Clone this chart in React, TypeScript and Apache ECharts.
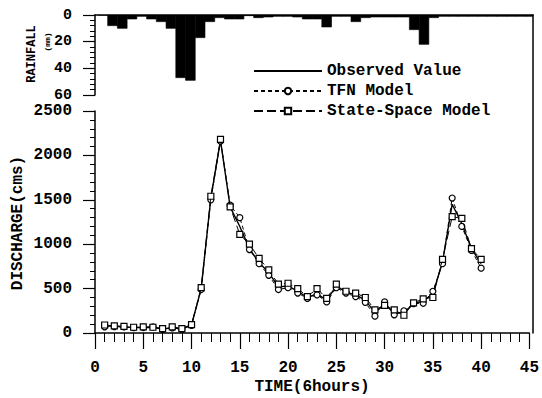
import React, { useEffect, useRef } from "react";
import * as echarts from "echarts";

const times = [1, 2, 3, 4, 5, 6, 7, 8, 9, 10, 11, 12, 13, 14, 15, 16, 17, 18, 19, 20, 21, 22, 23, 24, 25, 26, 27, 28, 29, 30, 31, 32, 33, 34, 35, 36, 37, 38, 39, 40];
const observed = [80, 75, 70, 60, 60, 65, 45, 60, 45, 90, 500, 1520, 2170, 1420, 1200, 950, 790, 680, 520, 530, 470, 400, 440, 370, 530, 460, 430, 370, 230, 330, 220, 230, 330, 360, 440, 800, 1450, 1230, 950, 780];
const tfnModel = [70, 72, 68, 60, 62, 70, 40, 58, 42, 85, 490, 1500, 2160, 1440, 1300, 940, 780, 650, 490, 510, 450, 390, 430, 350, 510, 450, 410, 345, 190, 350, 205, 250, 330, 335, 470, 780, 1520, 1200, 930, 730];
const stateSpace = [90, 80, 75, 65, 68, 65, 50, 70, 50, 95, 510, 1540, 2180, 1420, 1110, 1000, 840, 710, 550, 560, 500, 410, 500, 390, 550, 470, 450, 400, 260, 310, 260, 200, 340, 385, 400, 830, 1310, 1290, 950, 830];

const rainTimes = [1, 2, 3, 4, 5, 6, 7, 8, 9, 10, 11, 12, 13, 14, 15, 16, 17, 18, 19, 20, 21, 22, 23, 24, 25, 26, 27, 28, 29, 30, 31, 32, 33, 34, 35, 36, 37, 38, 39, 40, 41, 42, 43, 44, 45];
const rainfall = [0, 8, 10, 3, 1, 3, 5, 10, 47, 49, 17, 5, 2, 3, 3, 0.5, 2, 1.5, 1, 1, 1.5, 3, 3, 9, 1, 1, 5, 2, 1.5, 1.5, 1.5, 1.5, 11, 22, 2, 1, 1, 1, 1, 1, 1, 1, 1, 1, 1];

const xTicks = [0, 45, 5];
const qTicks = [0, 2500, 500];
const rTicks = [0, 60, 20];

const FONT = '"Liberation Mono", "DejaVu Sans Mono", monospace';
const BLACK = "#000";

export default function App() {
  const ref = useRef<HTMLDivElement>(null);
  useEffect(() => {
    if (!ref.current) return;
    const chart = echarts.init(ref.current, null, { renderer: "svg" });
    const labelStyle = { color: BLACK, fontFamily: FONT, fontWeight: "bold", fontSize: 15 };
    const plain = (v: number) => String(v);
    const line = { lineStyle: { color: BLACK, width: 1.5 } };
    const titleText = (text: string, x: number, y: number, size: number, rotate: boolean) => ({
      type: "text",
      x,
      y,
      rotation: rotate ? Math.PI / 2 : 0,
      style: {
        text,
        fill: BLACK,
        fontFamily: FONT,
        fontWeight: "bold",
        fontSize: size,
        textAlign: "center",
        textVerticalAlign: "middle",
      },
    });
    chart.setOption({
      animation: false,
      backgroundColor: "#fff",
      textStyle: { fontFamily: FONT },
      grid: [
        { left: 95, right: 9, top: 111, bottom: 65 },
        { left: 95, right: 9, top: 15, height: 80 },
        { left: 95, right: 9, top: 15, bottom: 65 },
      ],
      graphic: [
        titleText("DISCHARGE(cms)", 18, 223, 16, true),
        titleText("TIME(6hours)", 312, 387, 16, false),
        titleText("RAINFALL", 32, 54, 12, true),
        titleText("(mm)", 47, 42, 8, true),
      ],
      legend: {
        orient: "vertical",
        left: 253,
        top: 63,
        padding: 0,
        itemWidth: 68,
        itemHeight: 8,
        itemGap: 4,
        textStyle: { ...labelStyle, fontSize: 16, lineHeight: 16 },
        data: [
          { name: "Observed Value", itemStyle: { color: "transparent", borderColor: "transparent", borderWidth: 0 } },
          { name: "TFN Model" },
          { name: "State-Space Model" },
        ],
      },
      xAxis: [
        {
          gridIndex: 0,
          type: "value",
          min: xTicks[0],
          max: xTicks[1],
          interval: xTicks[2],
          axisLine: { show: true, onZero: false, ...line },
          axisTick: { show: true, inside: false, length: 16, lineStyle: { color: BLACK, width: 1.2 } },
          minorTick: { show: true, splitNumber: 5, length: 9, lineStyle: { color: BLACK, width: 1 } },
          splitLine: { show: false },
          axisLabel: { ...labelStyle, fontSize: 16, margin: 27, formatter: plain },
        },
        { gridIndex: 1, type: "value", min: 0.2, max: 45.2, show: false },
        {
          gridIndex: 2,
          type: "value",
          min: 0,
          max: 45,
          position: "top",
          axisLine: { show: true, onZero: false, ...line },
          axisTick: { show: false },
          axisLabel: { show: false },
          splitLine: { show: false },
        },
      ],
      yAxis: [
        {
          gridIndex: 0,
          type: "value",
          min: qTicks[0],
          max: qTicks[1],
          interval: qTicks[2],
          axisLine: { show: true, onZero: false, ...line },
          axisTick: { show: true, inside: false, length: 12, lineStyle: { color: BLACK, width: 1.2 } },
          minorTick: { show: true, splitNumber: 5, length: 5, lineStyle: { color: BLACK, width: 1 } },
          splitLine: { show: false },
          axisLabel: { ...labelStyle, fontSize: 16, margin: 23, formatter: plain },
        },
        {
          gridIndex: 1,
          type: "value",
          inverse: true,
          min: rTicks[0],
          max: rTicks[1],
          interval: rTicks[2],
          axisLine: { show: true, onZero: false, ...line },
          axisTick: { show: true, inside: false, length: 12, lineStyle: { color: BLACK, width: 1.2 } },
          minorTick: { show: true, splitNumber: 5, length: 5, lineStyle: { color: BLACK, width: 1 } },
          splitLine: { show: false },
          axisLabel: { ...labelStyle, margin: 23, formatter: plain },
        },
        {
          gridIndex: 2,
          type: "value",
          min: 0,
          max: 1,
          position: "right",
          axisLine: { show: true, onZero: false, ...line },
          axisTick: { show: false },
          axisLabel: { show: false },
          splitLine: { show: false },
        },
      ],
      series: [
        {
          name: "Rainfall",
          type: "custom",
          xAxisIndex: 1,
          yAxisIndex: 1,
          clip: true,
          data: rainTimes.map((t, i) => [t, rainfall[i]]),
          renderItem: (params: any, api: any) => {
            const t = api.value(0);
            const v = api.value(1);
            const p0 = api.coord([t - 0.5, 0]);
            const p1 = api.coord([t + 0.5, v]);
            return {
              type: "rect",
              shape: { x: p0[0], y: p0[1], width: p1[0] - p0[0], height: p1[1] - p0[1] },
              style: { fill: BLACK, stroke: BLACK, lineWidth: 0.6 },
            };
          },
        },
        {
          name: "Observed Value",
          type: "line",
          xAxisIndex: 0,
          yAxisIndex: 0,
          data: times.map((t, i) => [t, observed[i]]),
          symbol: "none",
          lineStyle: { color: BLACK, width: 1.4, type: "solid" },
          itemStyle: { color: BLACK },
          z: 3,
        },
        {
          name: "TFN Model",
          type: "line",
          xAxisIndex: 0,
          yAxisIndex: 0,
          data: times.map((t, i) => [t, tfnModel[i]]),
          symbol: "circle",
          symbolSize: 6,
          showAllSymbol: true,
          lineStyle: { color: BLACK, width: 1, type: [4, 3] },
          itemStyle: { color: "#fff", borderColor: BLACK, borderWidth: 1.2 },
          z: 4,
        },
        {
          name: "State-Space Model",
          type: "line",
          xAxisIndex: 0,
          yAxisIndex: 0,
          data: times.map((t, i) => [t, stateSpace[i]]),
          symbol: "rect",
          symbolSize: 6,
          showAllSymbol: true,
          lineStyle: { color: BLACK, width: 1, type: [9, 4] },
          itemStyle: { color: "#fff", borderColor: BLACK, borderWidth: 1.2 },
          z: 5,
        },
      ],
    });
    return () => chart.dispose();
  }, []);
  return <div ref={ref} style={{ width: 542, height: 398, position: "absolute", left: 0, top: 0 }} />;
}
